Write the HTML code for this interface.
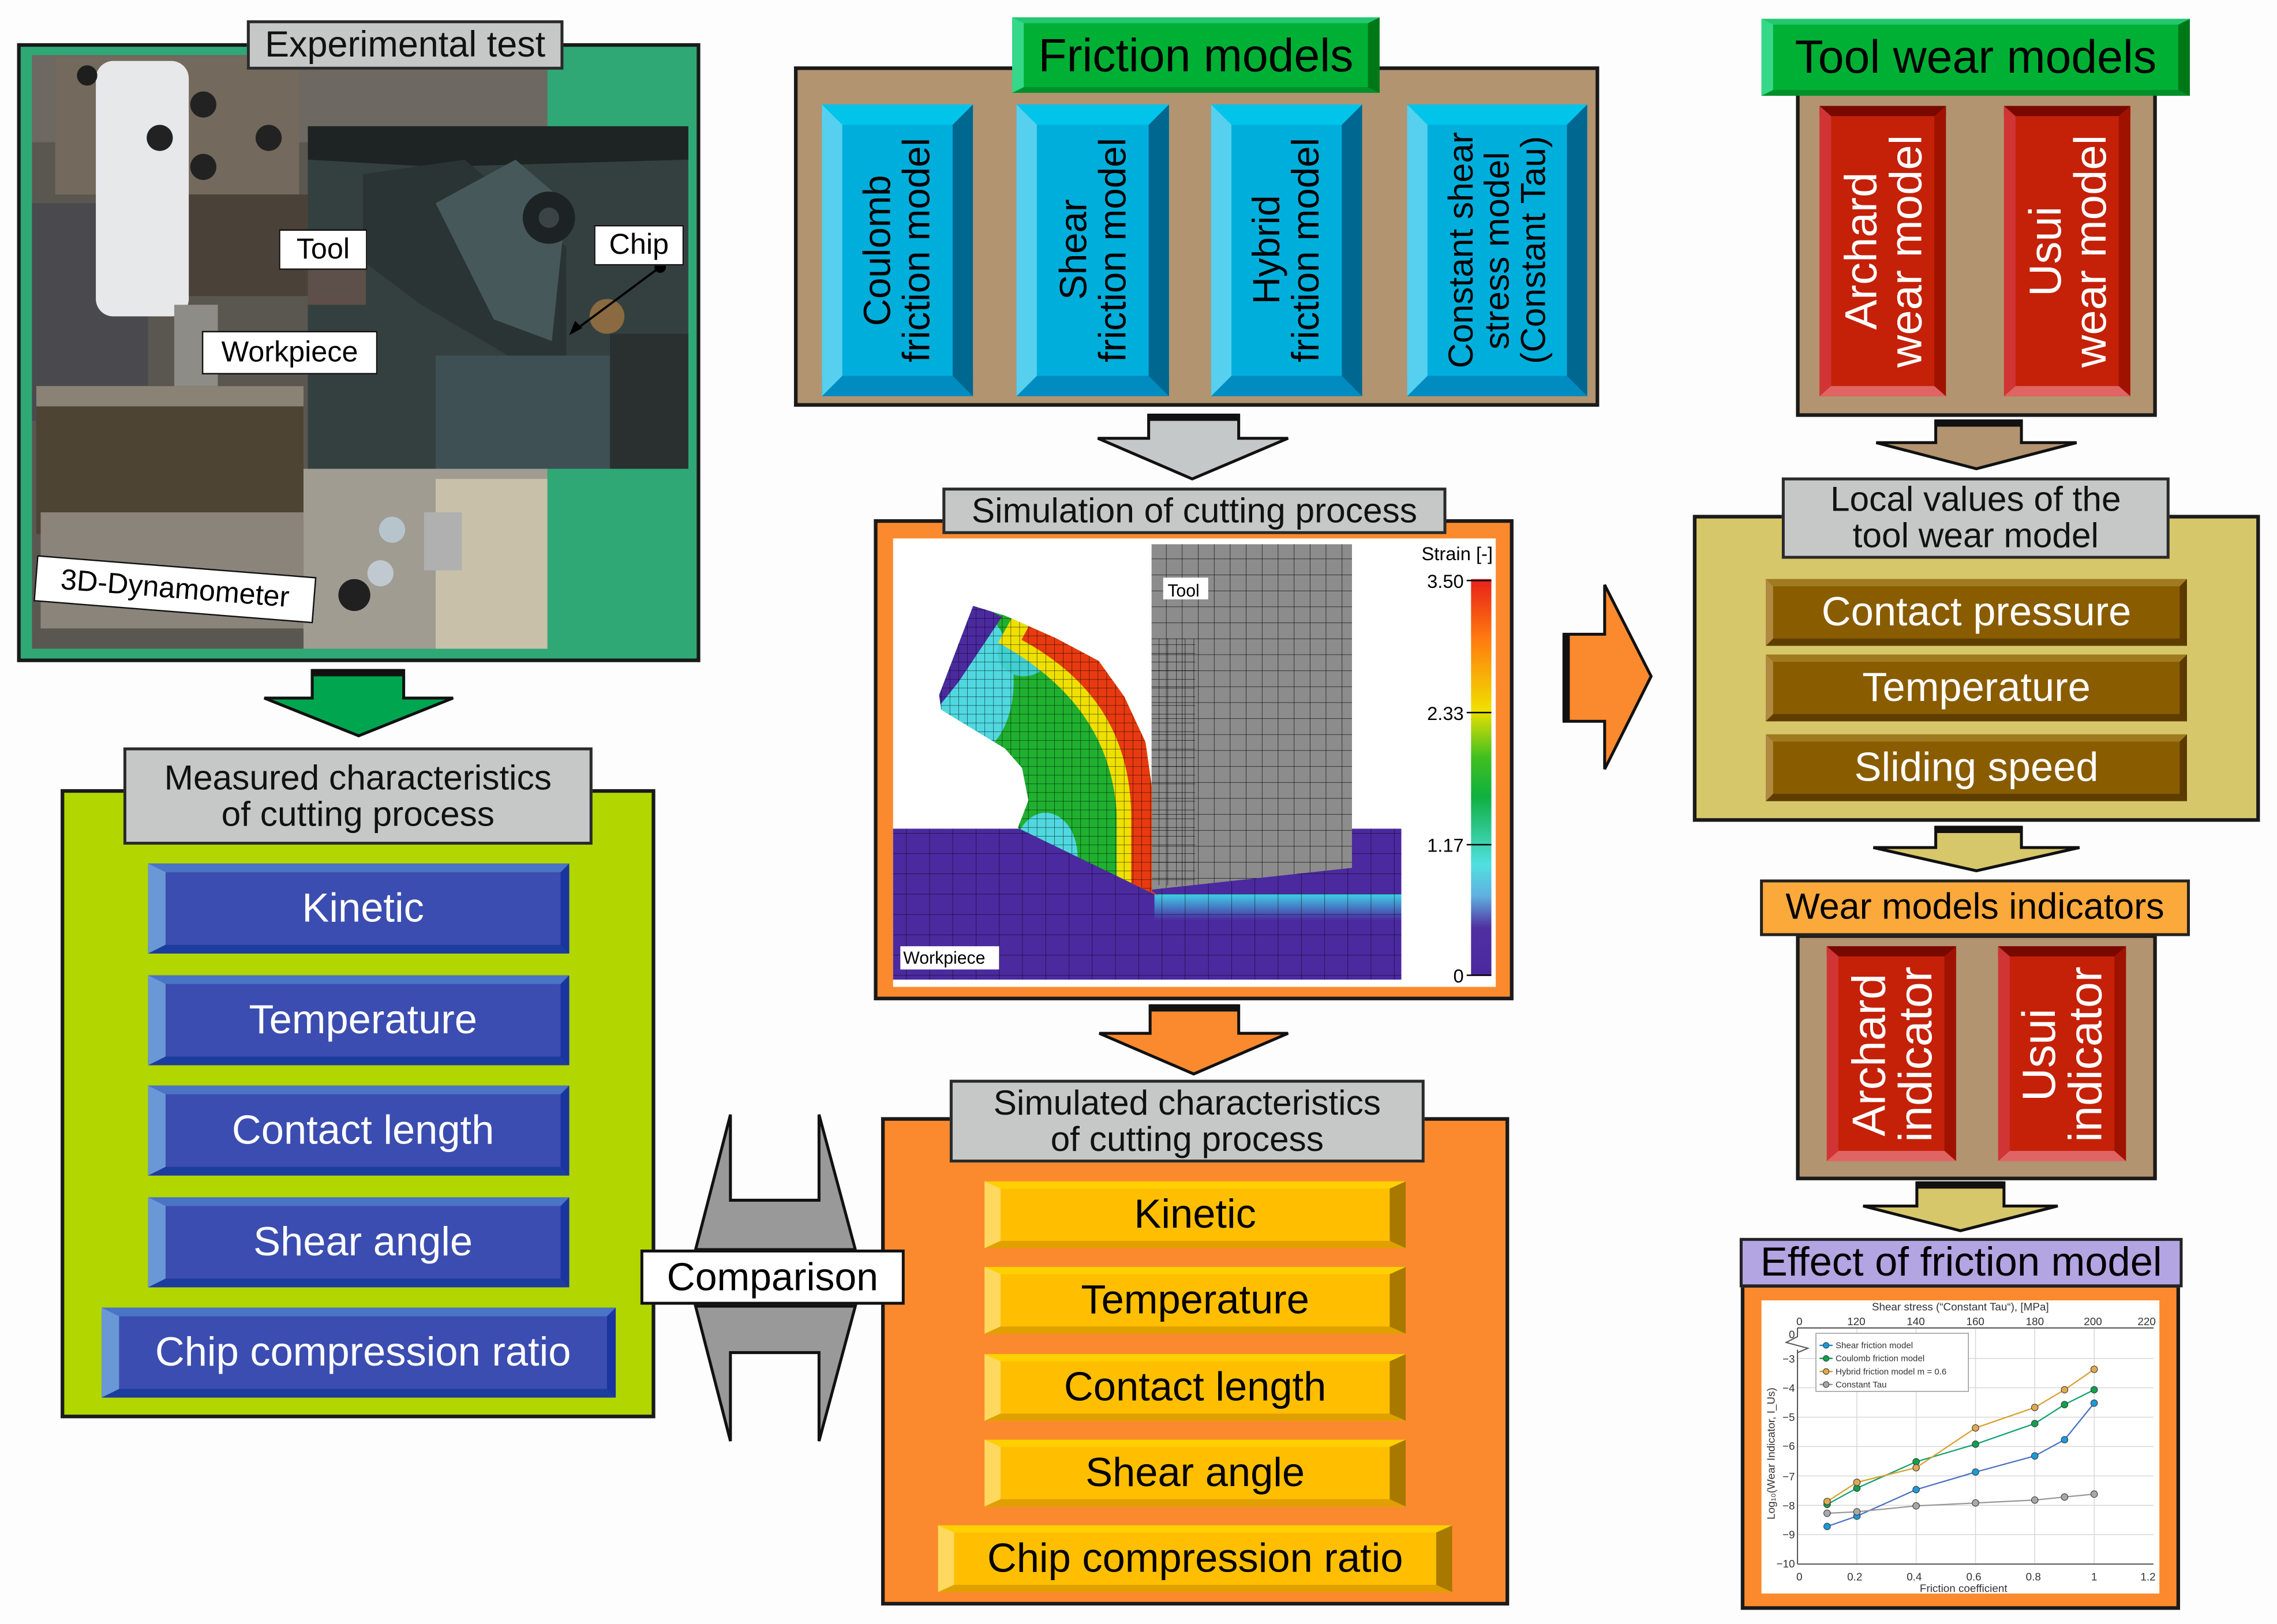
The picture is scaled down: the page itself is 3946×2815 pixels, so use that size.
<!DOCTYPE html>
<html><head><meta charset="utf-8">
<style>
html,body{margin:0;padding:0;background:#fdfdfd;}
body{width:3946px;height:2815px;overflow:hidden;position:relative;}
#c{position:absolute;left:0;top:0;width:1568px;height:1119px;transform:scale(2.51658,2.51564);transform-origin:0 0;font-family:"Liberation Sans",Arial,sans-serif;}
.a{position:absolute;box-sizing:border-box;}
.t{display:flex;align-items:center;justify-content:center;text-align:center;white-space:nowrap;}
.lab{background:#c6c8c8;border:2px solid #2a2a2a;color:#111;font-size:24px;line-height:25px;}
.pan{border:2.5px solid #1a1a1a;}
.bl{border-style:solid;border-width:6px 6px 6px 12px;border-color:#4a74c4 #1a35a0 #1c3c9e #6a98d6;background:#3b4db0;color:#fff;font-size:28px;}
.ye{border-style:solid;border-width:5px 11px 5px 11px;border-color:#ffd000 #a87800 #e0a000 #ffd860;background:#ffbf00;color:#000;font-size:28px;}
.br{border-style:solid;border-width:5px 5px 5px 5px;border-color:#a07a20 #5a3a00 #5e3e00 #b08a40;background:#8a5c00;color:#fff;font-size:28px;}
.cy{border-style:solid;border-width:14px 14px 14px 14px;border-color:#00c4ea #006890 #008cc0 #56d0ee;background:#00aedc;color:#000;font-size:26px;line-height:27px;}
.rd{border-style:solid;border-width:7px 8px 7px 8px;border-color:#780800 #a01200 #e06464 #d03434;background:#c42108;color:#fff;font-size:31px;line-height:31px;}
.gr{border-style:solid;border-width:4px 8px 4px 8px;border-color:#22c870 #007818 #00902a #34d888;background:#00b034;color:#000;font-size:32px;}
.v{writing-mode:vertical-rl;transform:rotate(180deg);text-align:center;white-space:nowrap;}
.wl{background:#fff;border:1.5px solid #111;color:#000;font-size:20px;}
</style></head><body><div id="c">

<svg class="a" style="left:0;top:0" width="1568" height="1119" viewBox="0 0 1568 1119">
<defs>
<pattern id="mesh" width="6" height="6" patternUnits="userSpaceOnUse"><path d="M0 0H6M0 0V6" stroke="#000" stroke-width="0.5" fill="none"/></pattern>
<pattern id="mesh2" width="11" height="11" patternUnits="userSpaceOnUse"><path d="M0 0H11M0 0V11" stroke="#000" stroke-width="0.5" fill="none"/></pattern>
<pattern id="mesh3" width="16" height="14" patternUnits="userSpaceOnUse"><path d="M0 0H16M0 0V14" stroke="#000" stroke-width="0.5" fill="none"/></pattern>
<clipPath id="chip"><path d="M700.9 570.5 L708.2 551.5 L703.8 529.2 L692.1 515.8 L648.1 489 L646.7 478.9 L670.1 417.5 L692.1 424.2 L727.3 439.8 L756.6 455.4 L774.2 480 L788.8 511.3 L793.2 542.6 L793.2 614 L797.6 617.4 Z"/></clipPath>
<linearGradient id="cb" x1="0" y1="0" x2="0" y2="1">
<stop offset="0" stop-color="#e8201a"/><stop offset="0.15" stop-color="#ff7a10"/><stop offset="0.33" stop-color="#f0e000"/><stop offset="0.45" stop-color="#40c020"/><stop offset="0.55" stop-color="#10b040"/><stop offset="0.72" stop-color="#50e0e0"/><stop offset="0.8" stop-color="#60b0e0"/><stop offset="0.88" stop-color="#5030a0"/><stop offset="1" stop-color="#4a28a0"/></linearGradient>
<linearGradient id="band" x1="0" y1="0" x2="1" y2="0"><stop offset="0" stop-color="#30c0e0"/><stop offset="1" stop-color="#50d8e8"/></linearGradient>
<linearGradient id="band2" x1="0" y1="0" x2="0" y2="1"><stop offset="0" stop-color="#40d0e8"/><stop offset="1" stop-color="#4b2aa0"/></linearGradient>
<clipPath id="photo"><rect x="22" y="38" width="355" height="409"/></clipPath>
</defs>

<!-- Experimental panel -->
<rect x="13" y="31" width="468" height="424" fill="#2fa876" stroke="#1a1a1a" stroke-width="2.5"/>
<g clip-path="url(#photo)">
<rect x="22" y="38" width="355" height="409" fill="#5a5650"/>
<rect x="22" y="38" width="355" height="60" fill="#6d6862"/>
<rect x="38" y="39" width="168" height="95" fill="#73695c"/>
<rect x="22" y="140" width="80" height="150" fill="#4a4a4e"/>
<rect x="102" y="134" width="110" height="70" fill="#4a4238"/>
<rect x="66" y="42" width="64" height="176" rx="12" fill="#e6e8ea"/>
<rect x="120" y="210" width="30" height="62" fill="#8e8c86"/>
<rect x="25" y="266" width="184" height="102" fill="#4e4434"/>
<rect x="25" y="266" width="184" height="14" fill="#8a8274"/>
<rect x="28" y="353" width="194" height="80" fill="#8a847a"/>
<rect x="209" y="323" width="168" height="124" fill="#a09c92"/>
<rect x="300" y="330" width="77" height="117" fill="#c8c0a8"/>
<circle cx="270" cy="365" r="9" fill="#b8c4cc"/><circle cx="262" cy="395" r="9" fill="#c0c8d0"/><circle cx="244" cy="410" r="11" fill="#202020"/>
<rect x="292" y="353" width="26" height="40" fill="#b0b0b0"/>
<circle cx="60" cy="52" r="7" fill="#1e1e1e"/><circle cx="140" cy="72" r="9" fill="#222"/><circle cx="110" cy="95" r="9" fill="#222"/><circle cx="140" cy="115" r="9" fill="#222"/><circle cx="185" cy="95" r="9" fill="#222"/>
</g>
<rect x="212" y="87" width="262" height="236" fill="#34403f"/>
<polygon points="212,87 474,87 474,110 300,115 212,110" fill="#1e2424"/>
<polygon points="250,120 320,110 390,170 390,245 350,245 290,210 250,180" fill="#2a3434"/>
<polygon points="300,140 355,110 390,140 380,235 340,220" fill="#46585a"/>
<circle cx="378" cy="150" r="18" fill="#1d2324"/><circle cx="378" cy="150" r="7" fill="#3a4446"/>
<polygon points="300,245 420,245 420,323 300,323" fill="#3e5054"/>
<rect x="212" y="180" width="40" height="30" fill="#7a5a50" opacity="0.6"/>
<rect x="420" y="230" width="54" height="93" fill="#2a3030"/>
<circle cx="418" cy="218" r="12" fill="#8a6a40"/>
<line x1="454.6" y1="184" x2="394" y2="229" stroke="#000" stroke-width="1.5"/>
<circle cx="454.6" cy="184" r="4" fill="#000"/>
<polygon points="392,231 396,221 401,226" fill="#000"/>

<!-- Measured panel -->
<rect x="43" y="545" width="407" height="431" fill="#b2d600" stroke="#1a1a1a" stroke-width="2.5"/>
<!-- Friction -->
<rect x="548" y="47" width="552" height="232" fill="#b39470" stroke="#1a1a1a" stroke-width="2.5"/>
<!-- Simulation -->
<rect x="603" y="359" width="438" height="329" fill="#fb8a2e" stroke="#1a1a1a" stroke-width="2.5"/>
<rect x="615" y="371" width="415" height="309" fill="#fff"/>
<!-- FEM -->
<rect x="615" y="571" width="350" height="104" fill="#4b2aa0"/>
<rect x="795" y="616" width="170" height="18" fill="url(#band2)"/>
<rect x="615" y="571" width="350" height="104" fill="url(#mesh3)" opacity="0.8"/>
<polygon points="793,375 931,375 931,598 793,613" fill="#8c8c8c"/>
<polygon points="793,375 931,375 931,598 793,613" fill="url(#mesh2)"/>
<rect x="793" y="440" width="30" height="170" fill="url(#mesh)"/>
<g clip-path="url(#chip)">
<rect x="640" y="410" width="160" height="215" fill="#20b030"/>
<ellipse cx="668" cy="470" rx="30" ry="50" fill="#50d8e0"/>
<ellipse cx="720" cy="590" rx="22" ry="30" fill="#50d8e0"/>
<polygon points="640,495 660,410 690,425 660,470" fill="#4b2aa0"/>
<ellipse cx="705" cy="450" rx="18" ry="16" fill="#40d0d0"/>
<path d="M700 420 Q790 470 795 560 L795 620" stroke="#f0e000" stroke-width="52" fill="none"/>
<path d="M712 425 Q795 470 797 560 L797 620" stroke="#e83a10" stroke-width="36" fill="none"/>
<rect x="640" y="410" width="160" height="215" fill="url(#mesh)" opacity="0.8"/>
</g>
<rect x="801" y="398" width="31" height="15" fill="#fff"/>
<text x="804" y="411" font-size="12" font-family="Liberation Sans">Tool</text>
<rect x="620" y="652" width="68" height="16" fill="#fff"/>
<text x="622" y="664" font-size="12" font-family="Liberation Sans">Workpiece</text>
<rect x="1013" y="399" width="14" height="273" fill="url(#cb)"/>
<g font-size="13" font-family="Liberation Sans" text-anchor="end">
<text x="1028" y="386">Strain [-]</text>
<text x="1008" y="405">3.50</text><text x="1008" y="496">2.33</text><text x="1008" y="587">1.17</text><text x="1008" y="677">0</text></g>
<g stroke="#000" stroke-width="1"><line x1="1010" y1="400" x2="1027" y2="400"/><line x1="1010" y1="491" x2="1027" y2="491"/><line x1="1010" y1="582" x2="1027" y2="582"/><line x1="1010" y1="672" x2="1027" y2="672"/></g>

<!-- Simulated panel -->
<rect x="608" y="771" width="430" height="334" fill="#fb8a2e" stroke="#1a1a1a" stroke-width="2.5"/>
<!-- Tool wear -->
<rect x="1238" y="63" width="246" height="223" fill="#b39470" stroke="#1a1a1a" stroke-width="2.5"/>
<!-- Local values -->
<rect x="1167" y="356" width="388" height="209" fill="#d7c76b" stroke="#1a1a1a" stroke-width="2.5"/>
<!-- indicators -->
<rect x="1238" y="645" width="246" height="167" fill="#b39470" stroke="#1a1a1a" stroke-width="2.5"/>
<!-- chart -->
<rect x="1200" y="886" width="300" height="222" fill="#fb8a2e" stroke="#1a1a1a" stroke-width="2.5"/>
<rect x="1213" y="896" width="274" height="202" fill="#fff"/>
<g stroke="#d8d8d8" stroke-width="0.6">
<line x1="1278.7" y1="915" x2="1278.7" y2="1077.7"/><line x1="1319.5" y1="915" x2="1319.5" y2="1077.7"/><line x1="1360.4" y1="915" x2="1360.4" y2="1077.7"/><line x1="1401.2" y1="915" x2="1401.2" y2="1077.7"/><line x1="1442.1" y1="915" x2="1442.1" y2="1077.7"/>
<line x1="1238" y1="936" x2="1483" y2="936"/><line x1="1238" y1="956.2" x2="1483" y2="956.2"/><line x1="1238" y1="976.5" x2="1483" y2="976.5"/><line x1="1238" y1="996.7" x2="1483" y2="996.7"/><line x1="1238" y1="1017" x2="1483" y2="1017"/><line x1="1238" y1="1037.2" x2="1483" y2="1037.2"/><line x1="1238" y1="1057.4" x2="1483" y2="1057.4"/>
</g>
<g stroke="#555" stroke-width="0.8" fill="none">
<line x1="1237.8" y1="915" x2="1483" y2="915"/><line x1="1237.8" y1="1077.7" x2="1483" y2="1077.7"/><line x1="1237.8" y1="930" x2="1237.8" y2="1077.7"/>
<polyline points="1237.8,915 1237.8,921 1230,925 1245,929 1237.8,932"/>
</g>
<g font-size="7.5" font-family="Liberation Sans" fill="#333">
<text x="1237" y="913">0</text><text x="1272" y="913">120</text><text x="1313" y="913">140</text><text x="1354" y="913">160</text><text x="1395" y="913">180</text><text x="1435" y="913">200</text><text x="1472" y="913">220</text>
<text x="1289" y="903">Shear stress (“Constant Tau“), [MPa]</text>
<g text-anchor="end"><text x="1236" y="922">0</text><text x="1236" y="939">−3</text><text x="1236" y="959">−4</text><text x="1236" y="979">−5</text><text x="1236" y="999">−6</text><text x="1236" y="1020">−7</text><text x="1236" y="1040">−8</text><text x="1236" y="1060">−9</text><text x="1236" y="1080">−10</text></g>
<text x="1237" y="1089">0</text><text x="1272" y="1089">0.2</text><text x="1313" y="1089">0.4</text><text x="1354" y="1089">0.6</text><text x="1395" y="1089">0.8</text><text x="1440" y="1089">1</text><text x="1474" y="1089">1.2</text>
<text x="1322" y="1097">Friction coefficient</text>
<text transform="translate(1222,1047) rotate(-90)">Log₁₀(Wear Indicator, I_Us)</text>
</g>
<rect x="1250.5" y="918.7" width="105" height="40" fill="#fff" stroke="#999" stroke-width="0.6"/>
<g font-size="6" font-family="Liberation Sans" fill="#333">
<line x1="1253" y1="927" x2="1262" y2="927" stroke="#1a8fd0"/><circle cx="1257.5" cy="927" r="2" fill="#1a9ad8" stroke="#333" stroke-width="0.4"/><text x="1264" y="929">Shear friction model</text>
<line x1="1253" y1="936" x2="1262" y2="936" stroke="#10a050"/><circle cx="1257.5" cy="936" r="2" fill="#10a050" stroke="#333" stroke-width="0.4"/><text x="1264" y="938">Coulomb friction model</text>
<line x1="1253" y1="945" x2="1262" y2="945" stroke="#d8a030"/><circle cx="1257.5" cy="945" r="2" fill="#e0a850" stroke="#333" stroke-width="0.4"/><text x="1264" y="947">Hybrid friction model  m = 0.6</text>
<line x1="1253" y1="954" x2="1262" y2="954" stroke="#999"/><circle cx="1257.5" cy="954" r="2" fill="#a8a8a8" stroke="#333" stroke-width="0.4"/><text x="1264" y="956">Constant Tau</text>
</g>
<g fill="none" stroke-width="0.9">
<polyline stroke="#4a70c0" points="1258.2,1051.8 1278.7,1044.7 1319.5,1026.4 1360.4,1014.3 1401.2,1003.2 1421.7,992.0 1442.1,966.8"/>
<polyline stroke="#10a070" points="1258.2,1036.6 1278.7,1025.4 1319.5,1007.2 1360.4,995.1 1401.2,980.9 1421.7,967.8 1442.1,957.6"/>
<polyline stroke="#d8a030" points="1258.2,1034.6 1278.7,1021.4 1319.5,1011.3 1360.4,983.9 1401.2,969.8 1421.7,957.6 1442.1,943.5"/>
<polyline stroke="#999" points="1258.2,1042.7 1278.7,1041.7 1319.5,1037.6 1360.4,1035.6 1401.2,1033.6 1421.7,1031.5 1442.1,1029.5"/>
</g>
<g stroke="#333" stroke-width="0.4">
<g fill="#1a9ad8"><circle cx="1258.2" cy="1051.8" r="2.3"/><circle cx="1278.7" cy="1044.7" r="2.3"/><circle cx="1319.5" cy="1026.4" r="2.3"/><circle cx="1360.4" cy="1014.3" r="2.3"/><circle cx="1401.2" cy="1003.2" r="2.3"/><circle cx="1421.7" cy="992" r="2.3"/><circle cx="1442.1" cy="966.8" r="2.3"/></g>
<g fill="#10a050"><circle cx="1258.2" cy="1036.6" r="2.3"/><circle cx="1278.7" cy="1025.4" r="2.3"/><circle cx="1319.5" cy="1007.2" r="2.3"/><circle cx="1360.4" cy="995.1" r="2.3"/><circle cx="1401.2" cy="980.9" r="2.3"/><circle cx="1421.7" cy="967.8" r="2.3"/><circle cx="1442.1" cy="957.6" r="2.3"/></g>
<g fill="#e0a850"><circle cx="1258.2" cy="1034.6" r="2.3"/><circle cx="1278.7" cy="1021.4" r="2.3"/><circle cx="1319.5" cy="1011.3" r="2.3"/><circle cx="1360.4" cy="983.9" r="2.3"/><circle cx="1401.2" cy="969.8" r="2.3"/><circle cx="1421.7" cy="957.6" r="2.3"/><circle cx="1442.1" cy="943.5" r="2.3"/></g>
<g fill="#a8a8a8"><circle cx="1258.2" cy="1042.7" r="2.3"/><circle cx="1278.7" cy="1041.7" r="2.3"/><circle cx="1319.5" cy="1037.6" r="2.3"/><circle cx="1360.4" cy="1035.6" r="2.3"/><circle cx="1401.2" cy="1033.6" r="2.3"/><circle cx="1421.7" cy="1031.5" r="2.3"/><circle cx="1442.1" cy="1029.5" r="2.3"/></g>
</g>

<!-- Arrows -->
<g stroke="#111" stroke-width="2" stroke-linejoin="miter">
<polygon fill="#00a550" points="215,462 278,462 278,481 312,481 247,507 182,481 215,481"/>
<polygon fill="#c5c8c8" points="791,286 853,286 853,302 887,302 821,330 756,302 791,302"/>
<polygon fill="#fb8a2e" points="792,693 853,693 853,712 887,712 822,740 757,712 792,712"/>
<polygon fill="#fb8a2e" points="1077,437 1105,437 1105,403 1137,466 1105,530 1105,497 1077,497"/>
<polygon fill="#b39470" points="1333,290 1392,290 1392,305 1430,305 1361,323 1292,305 1333,305"/>
<polygon fill="#d7c76b" points="1333,570 1392,570 1392,584 1432,584 1361,600 1290,584 1333,584"/>
<polygon fill="#d7c76b" points="1320,815 1380,815 1380,831 1417,831 1350,848 1283,831 1320,831"/>
<polygon fill="#999" points="503,768 503,827 564,827 564,768 589,861 479,861"/>
<polygon fill="#999" points="479,900 589,900 564,993 564,932 503,932 503,993"/>
</g>
<g fill="#111">
<rect x="215" y="461" width="63" height="5"/><rect x="791" y="285" width="62" height="5"/><rect x="792" y="692" width="61" height="5"/>
<rect x="1076" y="437" width="5" height="60"/><rect x="1333" y="289" width="59" height="5"/><rect x="1333" y="569" width="59" height="5"/><rect x="1320" y="814" width="60" height="5"/>
</g>
</svg>

<!-- Experimental labels -->
<div class="a t lab" style="left:170px;top:14px;width:218px;height:34px;font-size:25px">Experimental test</div>
<div class="a t wl" style="left:192px;top:158px;width:61px;height:28px">Tool</div>
<div class="a t wl" style="left:409px;top:155px;width:62px;height:28px">Chip</div>
<div class="a t wl" style="left:139px;top:228px;width:121px;height:30px">Workpiece</div>
<div class="a t wl" style="left:24px;top:390px;width:193px;height:32px;transform:rotate(4.5deg)">3D-Dynamometer</div>

<!-- Measured -->
<div class="a t lab" style="left:85px;top:515px;width:323px;height:67px;flex-direction:column">Measured characteristics<br>of cutting process</div>
<div class="a t bl" style="left:102px;top:595px;width:290px;height:62px">Kinetic</div>
<div class="a t bl" style="left:102px;top:672px;width:290px;height:62px">Temperature</div>
<div class="a t bl" style="left:102px;top:748px;width:290px;height:62px">Contact length</div>
<div class="a t bl" style="left:102px;top:825px;width:290px;height:62px">Shear angle</div>
<div class="a t bl" style="left:70px;top:901px;width:354px;height:62px">Chip compression ratio</div>
<div class="a t" style="left:441px;top:861px;width:182px;height:38px;background:#fff;border:2.5px solid #111;font-size:27px;box-sizing:border-box">Comparison</div>

<!-- Friction -->
<div class="a t gr" style="left:697px;top:12px;width:253px;height:52px">Friction models</div>
<div class="a t cy" style="left:566px;top:72px;width:104px;height:201px"><div class="v">Coulomb<br>friction model</div></div>
<div class="a t cy" style="left:700px;top:72px;width:105px;height:201px"><div class="v">Shear<br>friction model</div></div>
<div class="a t cy" style="left:834px;top:72px;width:104px;height:201px"><div class="v">Hybrid<br>friction model</div></div>
<div class="a t cy" style="left:969px;top:72px;width:124px;height:201px;font-size:24px;line-height:25px"><div class="v">Constant shear<br>stress model<br>(Constant Tau)</div></div>

<div class="a t lab" style="left:649px;top:336px;width:347px;height:32px">Simulation of cutting process</div>

<!-- Simulated -->
<div class="a t lab" style="left:654px;top:744px;width:327px;height:57px">Simulated characteristics<br>of cutting process</div>
<div class="a t ye" style="left:678px;top:814px;width:290px;height:46px">Kinetic</div>
<div class="a t ye" style="left:678px;top:873px;width:290px;height:46px">Temperature</div>
<div class="a t ye" style="left:678px;top:933px;width:290px;height:46px">Contact length</div>
<div class="a t ye" style="left:678px;top:992px;width:290px;height:46px">Shear angle</div>
<div class="a t ye" style="left:646px;top:1051px;width:354px;height:46px">Chip compression ratio</div>

<!-- Tool wear -->
<div class="a t gr" style="left:1213px;top:13px;width:295px;height:53px">Tool wear models</div>
<div class="a t rd" style="left:1253px;top:73px;width:87px;height:200px"><div class="v">Archard<br>wear model</div></div>
<div class="a t rd" style="left:1380px;top:73px;width:87px;height:200px"><div class="v">Usui<br>wear model</div></div>

<div class="a t lab" style="left:1227px;top:329px;width:267px;height:56px">Local values of the<br>tool wear model</div>
<div class="a t br" style="left:1216px;top:399px;width:290px;height:46px">Contact pressure</div>
<div class="a t br" style="left:1216px;top:451px;width:290px;height:46px">Temperature</div>
<div class="a t br" style="left:1216px;top:506px;width:290px;height:46px">Sliding speed</div>

<div class="a t" style="left:1212px;top:606px;width:296px;height:39px;background:#fba93b;border:2px solid #222;font-size:25px">Wear models indicators</div>
<div class="a t rd" style="left:1258px;top:652px;width:89px;height:148px;font-size:32px;line-height:32px"><div class="v">Archard<br>indicator</div></div>
<div class="a t rd" style="left:1376px;top:652px;width:88px;height:148px;font-size:32px;line-height:32px"><div class="v">Usui<br>indicator</div></div>

<div class="a t" style="left:1198px;top:853px;width:305px;height:34px;background:#b3a4e2;border:2px solid #222;font-size:28px">Effect of friction model</div>

</div></body></html>
